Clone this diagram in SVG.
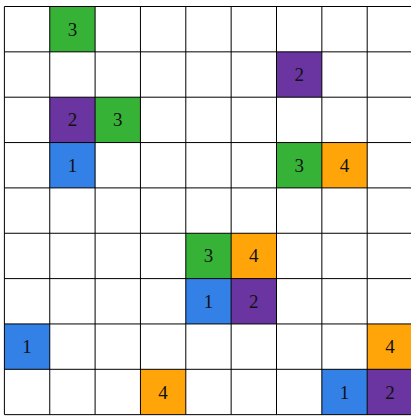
<svg xmlns="http://www.w3.org/2000/svg" width="411" height="418" viewBox="0 0 411 418">
<style>
.g{fill:#36b336}.b{fill:#3380e6}.p{fill:#6a35a0}.o{fill:#ffa50a}
.t{font-family:"Liberation Serif","DejaVu Serif",serif;font-size:19px;fill:#111;text-anchor:middle;dominant-baseline:central}
.ln{stroke:#000;stroke-width:1;fill:none}
</style>
<rect width="411" height="418" fill="#fff"/>
<g id="cells">
<g id="c0_1"><rect class="g" x="49.75" y="6.5" width="45.35" height="45.35"/><text class="t" x="72.4" y="29.2">3</text></g>
<g id="c1_6"><rect class="p" x="276.5" y="51.85" width="45.35" height="45.35"/><text class="t" x="299.2" y="74.5">2</text></g>
<g id="c2_1"><rect class="p" x="49.75" y="97.2" width="45.35" height="45.35"/><text class="t" x="72.4" y="119.9">2</text></g>
<g id="c2_2"><rect class="g" x="95.1" y="97.2" width="45.35" height="45.35"/><text class="t" x="117.8" y="119.9">3</text></g>
<g id="c3_1"><rect class="b" x="49.75" y="142.55" width="45.35" height="45.35"/><text class="t" x="72.4" y="165.2">1</text></g>
<g id="c3_6"><rect class="g" x="276.5" y="142.55" width="45.35" height="45.35"/><text class="t" x="299.2" y="165.2">3</text></g>
<g id="c3_7"><rect class="o" x="321.85" y="142.55" width="45.35" height="45.35"/><text class="t" x="344.5" y="165.2">4</text></g>
<g id="c5_4"><rect class="g" x="185.8" y="233.25" width="45.35" height="45.35"/><text class="t" x="208.5" y="255.9">3</text></g>
<g id="c5_5"><rect class="o" x="231.15" y="233.25" width="45.35" height="45.35"/><text class="t" x="253.8" y="255.9">4</text></g>
<g id="c6_4"><rect class="b" x="185.8" y="278.6" width="45.35" height="45.35"/><text class="t" x="208.5" y="301.3">1</text></g>
<g id="c6_5"><rect class="p" x="231.15" y="278.6" width="45.35" height="45.35"/><text class="t" x="253.8" y="301.3">2</text></g>
<g id="c7_0"><rect class="b" x="4.4" y="323.95" width="45.35" height="45.35"/><text class="t" x="27.1" y="346.6">1</text></g>
<g id="c7_8"><rect class="o" x="367.2" y="323.95" width="45.35" height="45.35"/><text class="t" x="389.9" y="346.6">4</text></g>
<g id="c8_3"><rect class="o" x="140.45" y="369.3" width="45.35" height="45.35"/><text class="t" x="163.1" y="392">4</text></g>
<g id="c8_7"><rect class="b" x="321.85" y="369.3" width="45.35" height="45.35"/><text class="t" x="344.5" y="392">1</text></g>
<g id="c8_8"><rect class="p" x="367.2" y="369.3" width="45.35" height="45.35"/><text class="t" x="389.9" y="392">2</text></g>
</g>
<g id="grid" class="ln">
<path d="M4.4 6.5V414.65M49.75 6.5V414.65M95.1 6.5V414.65M140.45 6.5V414.65M185.8 6.5V414.65M231.15 6.5V414.65M276.5 6.5V414.65M321.85 6.5V414.65M367.2 6.5V414.65M412.55 6.5V414.65"/>
<path d="M4.4 6.5H412.55M4.4 51.85H412.55M4.4 97.2H412.55M4.4 142.55H412.55M4.4 187.9H412.55M4.4 233.25H412.55M4.4 278.6H412.55M4.4 323.95H412.55M4.4 369.3H412.55M4.4 414.65H412.55"/>
</g>
</svg>
